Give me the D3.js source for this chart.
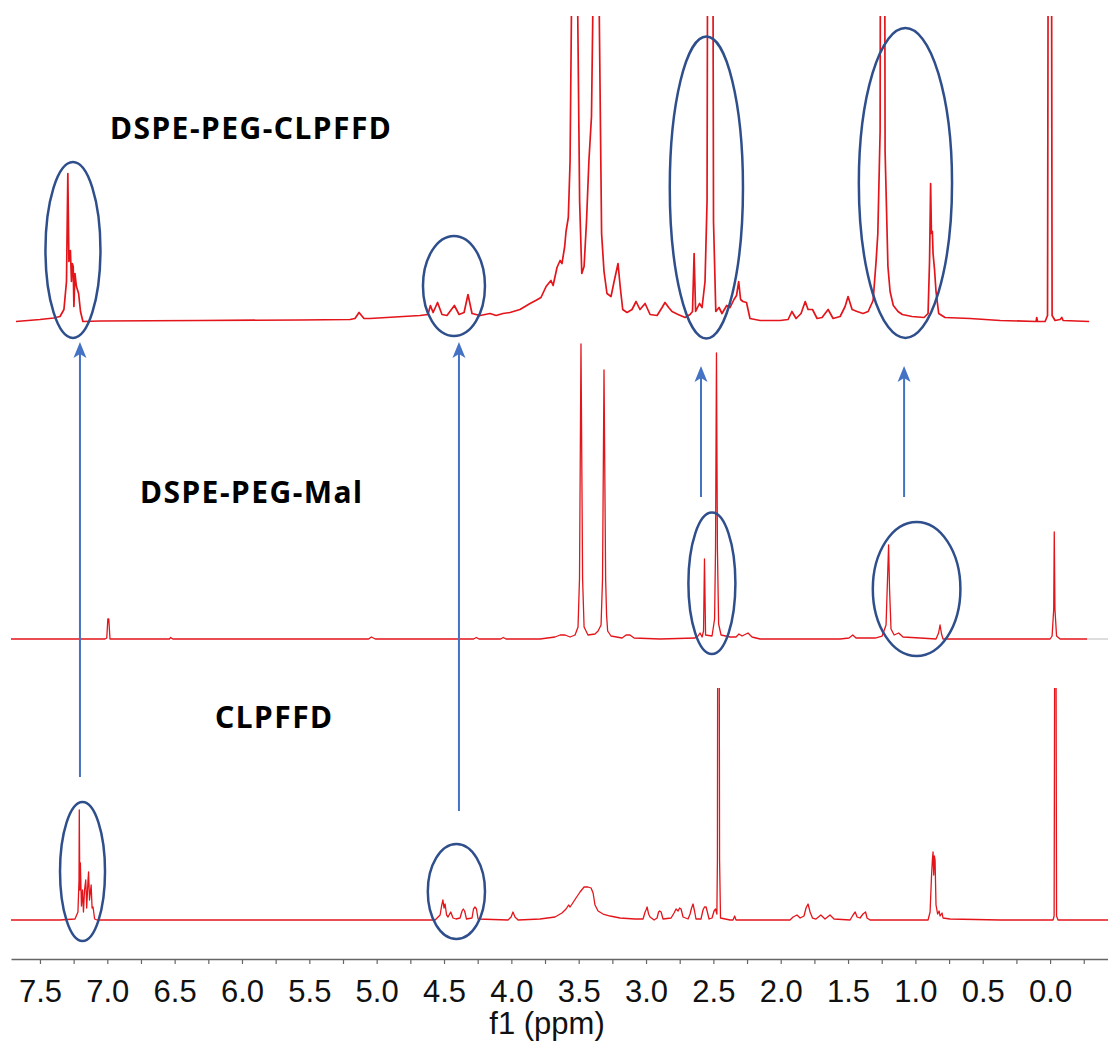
<!DOCTYPE html>
<html>
<head>
<meta charset="utf-8">
<script src="https://cdn.jsdelivr.net/npm/d3@7"></script>
<style>
  body { margin: 0; background: #fff; }
  svg { display: block; }
</style>
</head>
<body>
<div id="chart"></div>
<script>
// Chemical shift axis (ppm) and tick labels
const axisTicks = [7.5, 7.25, 7.0, 6.75, 6.5, 6.25, 6.0, 5.75, 5.5, 5.25, 5.0, 4.75, 4.5, 4.25, 4.0,
  3.75, 3.5, 3.25, 3.0, 2.75, 2.5, 2.25, 2.0, 1.75, 1.5, 1.25, 1.0, 0.75, 0.5, 0.25, 0.0, -0.25];
const sampleNames = ["DSPE-PEG-CLPFFD", "DSPE-PEG-Mal", "CLPFFD"];

// spectra: [ppm, intensity]
const specConjugate = [
  [7.678, 0], [7.499, 2], [7.399, 3.5], [7.351, 5], [7.322, 12], [7.303, 40], [7.293, 148], [7.285, 60],
  [7.274, 71], [7.266, 40], [7.26, 58], [7.253, 55], [7.248, 15], [7.24, 48], [7.229, 35], [7.213, 28],
  [7.199, 10], [7.181, 0], [7.054, 0.5], [6.312, 1], [5.569, 1.5], [5.198, 2], [5.161, 3], [5.131, 9],
  [5.094, 3], [5.05, 3], [4.678, 6], [4.619, 7], [4.601, 16], [4.581, 9], [4.548, 19], [4.515, 7],
  [4.478, 6], [4.423, 16], [4.388, 7], [4.351, 9], [4.322, 27], [4.292, 8], [4.232, 6], [4.158, 8],
  [4.113, 6], [4.062, 8], [4.01, 9], [3.936, 12], [3.861, 18], [3.819, 21], [3.78, 24], [3.742, 35],
  [3.706, 41], [3.69, 36], [3.661, 54], [3.638, 61], [3.624, 58], [3.604, 75], [3.594, 90], [3.577, 104],
  [3.564, 160], [3.553, 320], [3.531, 700], [3.508, 320], [3.493, 120], [3.477, 48], [3.46, 55],
  [3.442, 100], [3.424, 161], [3.405, 205], [3.393, 330], [3.371, 800], [3.349, 330], [3.33, 88],
  [3.312, 50], [3.29, 28], [3.26, 25], [3.237, 40], [3.208, 58], [3.192, 35], [3.173, 12], [3.141, 9],
  [3.104, 12], [3.074, 20], [3.045, 12], [3.007, 18], [2.97, 7], [2.918, 6], [2.881, 14], [2.859, 19],
  [2.832, 14], [2.807, 10], [2.762, 7], [2.71, 4], [2.673, 7], [2.655, 10], [2.643, 68], [2.632, 10],
  [2.603, 18], [2.584, 14], [2.562, 40], [2.547, 120], [2.536, 800], [2.51, 800], [2.499, 100],
  [2.482, 10], [2.458, 14], [2.436, 8], [2.401, 16], [2.376, 14], [2.347, 22], [2.328, 26], [2.312, 40],
  [2.298, 22], [2.28, 20], [2.254, 19], [2.228, 3], [2.153, 1], [2.005, 1], [1.945, 2], [1.917, 10],
  [1.886, 3], [1.849, 8], [1.818, 20], [1.797, 12], [1.764, 12], [1.73, 3], [1.693, 4], [1.648, 12],
  [1.611, 3], [1.559, 5], [1.522, 15], [1.5, 25], [1.47, 12], [1.433, 10], [1.389, 8], [1.351, 10],
  [1.314, 21], [1.292, 60], [1.279, 88], [1.262, 190], [1.255, 800], [1.233, 800], [1.225, 170],
  [1.204, 55], [1.188, 30], [1.164, 16], [1.129, 10], [1.097, 7], [1.025, 5], [0.936, 4], [0.906, 8],
  [0.895, 60], [0.887, 138], [0.881, 88], [0.874, 90], [0.869, 68], [0.858, 52], [0.847, 30],
  [0.827, 8], [0.78, 4], [0.594, 3], [0.371, 1], [0.104, 0], [0.099, 4], [0.093, 0], [0.037, 0],
  [0.019, 6], [0.009, 800], [-0.006, 800], [-0.015, 6], [-0.037, 1], [-0.074, 2], [-0.087, 4],
  [-0.097, 1], [-0.29, 0]
];

const specMal = [
  [7.715, 0], [7.017, 0], [7.004, 1], [6.996, 20], [6.989, 20], [6.98, 0], [6.539, 0], [6.529, 1.5],
  [6.514, 0], [5.06, 0], [5.039, 2], [5.01, 0], [4.28, 0], [4.26, 1.5], [4.24, 0], [4.08, 0],
  [4.06, 1.5], [4.04, 0], [3.787, 0], [3.676, 2], [3.638, 4], [3.601, 4], [3.564, 2], [3.527, 4],
  [3.505, 12], [3.494, 60], [3.483, 295], [3.471, 60], [3.46, 12], [3.431, 4], [3.379, 5], [3.356, 8],
  [3.334, 14], [3.323, 60], [3.312, 269], [3.3, 60], [3.293, 24], [3.285, 8], [3.26, 3], [3.178, 1],
  [3.148, 4], [3.119, 4], [3.089, 1], [2.896, 0], [2.636, 1], [2.614, 3], [2.599, 6], [2.584, 2],
  [2.573, 8], [2.566, 80], [2.558, 4], [2.51, 3], [2.491, 20], [2.484, 90], [2.477, 286], [2.47, 90],
  [2.461, 15], [2.443, 4], [2.376, 2], [2.332, 2], [2.31, 5], [2.287, 3], [2.243, 6], [2.213, 2],
  [2.153, 0], [1.559, 0], [1.493, 1], [1.465, 4], [1.441, 1], [1.299, 1], [1.247, 3], [1.218, 14],
  [1.207, 60], [1.199, 94], [1.192, 50], [1.181, 10], [1.158, 4], [1.124, 6], [1.092, 2], [0.965, 1],
  [0.847, 0], [0.828, 6], [0.817, 14], [0.806, 5], [0.795, 0], [0.0, 0], [-0.015, 3], [-0.027, 30],
  [-0.031, 107], [-0.036, 30], [-0.048, 3], [-0.074, 0], [-0.275, 0]
];

const specPeptide = [
  [7.715, 0], [7.351, 0], [7.24, 1], [7.218, 8], [7.21, 40], [7.208, 110], [7.204, 30], [7.2, 57],
  [7.192, 14], [7.184, 30], [7.177, 8], [7.169, 30], [7.16, 40], [7.153, 12], [7.143, 40], [7.139, 48],
  [7.132, 20], [7.12, 35], [7.113, 12], [7.106, 13], [7.094, 1], [7.076, 0], [4.566, 0], [4.529, 5],
  [4.518, 14], [4.508, 20], [4.5, 12], [4.492, 16], [4.481, 5], [4.47, 3], [4.45, 8], [4.433, 2],
  [4.411, 1], [4.381, 2], [4.366, 9], [4.357, 11], [4.347, 9], [4.333, 1], [4.292, 2], [4.281, 11],
  [4.27, 13], [4.259, 11], [4.247, 1], [4.025, 0], [4.002, 3], [3.988, 8], [3.973, 3], [3.95, 0],
  [3.787, 1], [3.676, 3], [3.624, 7], [3.594, 11], [3.575, 15], [3.564, 13], [3.549, 16], [3.52, 22],
  [3.49, 28], [3.46, 33], [3.431, 33], [3.408, 32], [3.393, 27], [3.379, 15], [3.356, 9], [3.319, 6],
  [3.267, 4], [3.193, 2], [3.082, 1], [3.022, 1], [3.007, 8], [3.0, 10], [2.992, 13], [2.981, 6],
  [2.97, 3], [2.94, 0], [2.918, 2], [2.907, 8], [2.899, 9], [2.888, 8], [2.874, 1], [2.814, 2],
  [2.792, 7], [2.777, 11], [2.762, 9], [2.751, 12], [2.74, 11], [2.725, 3], [2.688, 1], [2.673, 6],
  [2.662, 12], [2.651, 16], [2.64, 9], [2.629, 1], [2.592, 1], [2.577, 10], [2.566, 13], [2.554, 13],
  [2.543, 7], [2.532, 1], [2.51, 2], [2.495, 9], [2.484, 11], [2.474, 6], [2.47, 60], [2.467, 400],
  [2.458, 400], [2.454, 60], [2.447, 2], [2.376, 0], [2.354, 0], [2.342, 4], [2.332, 0], [1.931, 0],
  [1.908, 3], [1.879, 5], [1.856, 2], [1.827, 4], [1.812, 12], [1.797, 16], [1.782, 8], [1.764, 2],
  [1.738, 1], [1.702, 5], [1.671, 1], [1.634, 5], [1.604, 1], [1.485, 0], [1.463, 5], [1.447, 8],
  [1.433, 3], [1.411, 2], [1.389, 6], [1.37, 8], [1.359, 2], [1.337, 0], [0.906, 0], [0.891, 8],
  [0.88, 45], [0.874, 60], [0.869, 68], [0.864, 45], [0.859, 64], [0.854, 60], [0.847, 15], [0.835, 6],
  [0.824, 9], [0.817, 4], [0.802, 7], [0.795, 2], [0.743, 1], [0.371, 0], [-0.022, 0], [-0.03, 4],
  [-0.036, 400], [-0.042, 400], [-0.048, 4], [-0.059, 0], [-0.431, 0]
];

const width = 1108;
const height = 1044;

const svg = d3.select("#chart").append("svg")
  .attr("width", width)
  .attr("height", height)
  .style("font-family", "'Liberation Sans', Arial, sans-serif");

const x = d3.scaleLinear().domain([7.715, -0.43]).range([11, 1108]);

// each trace sits on its own baseline, clipped where the original was cut off
const panels = [
  { data: specConjugate, base: 321.5, top: 16, sw: 1.7, name: sampleNames[0], lx: 110, ly: 139 },
  { data: specMal, base: 639, top: 300, sw: 1.3, name: sampleNames[1], lx: 140, ly: 503 },
  { data: specPeptide, base: 920, top: 688, sw: 1.3, name: sampleNames[2], lx: 215, ly: 728 }
];

const red = "#e3151b";

panels.forEach((p, i) => {
  const y = d3.scaleLinear().domain([0, 300]).range([p.base, p.base - 300]);
  svg.append("clipPath").attr("id", "clip" + i)
    .append("rect").attr("x", 0).attr("y", p.top).attr("width", width).attr("height", p.base + 40 - p.top);

  const line = d3.line().x(d => x(d[0])).y(d => y(d[1]));
  svg.append("path")
    .datum(p.data)
    .attr("clip-path", "url(#clip" + i + ")")
    .attr("fill", "none")
    .attr("stroke", red)
    .attr("stroke-width", p.sw)
    .attr("stroke-linejoin", "round")
    .attr("d", line);

  svg.append("text")
    .attr("x", p.lx)
    .attr("y", p.ly)
    .attr("font-family", "'Noto Sans', 'Open Sans', sans-serif")
    .attr("font-weight", "bold")
    .attr("font-size", 30)
    .attr("letter-spacing", 1.5)
    .attr("fill", "#000")
    .text(p.name);
});

// little grey stub after the middle trace
svg.append("line")
  .attr("x1", x(-0.275)).attr("x2", width)
  .attr("y1", 639).attr("y2", 639)
  .attr("stroke", "#bbb").attr("stroke-width", 1);

// ppm axis
const axis = d3.axisBottom(x)
  .tickValues(axisTicks)
  .tickSize(5)
  .tickSizeOuter(0)
  .tickPadding(16)
  .tickFormat(d => (Math.round(d * 100) % 50 === 0) ? d3.format(".1f")(d) : "");

const gAxis = svg.append("g")
  .attr("transform", "translate(0,959)")
  .call(axis);
gAxis.select(".domain").attr("stroke", "#666").attr("stroke-width", 1.5);
gAxis.selectAll(".tick line").attr("stroke", "#666").attr("stroke-width", 1.2);
gAxis.selectAll(".tick text")
  .attr("font-family", "'Liberation Sans', Arial, sans-serif")
  .attr("font-size", 31)
  .attr("fill", "#111");

svg.append("text")
  .attr("x", 547)
  .attr("y", 1034)
  .attr("text-anchor", "middle")
  .attr("font-size", 31)
  .attr("fill", "#111")
  .text("f1 (ppm)");

// annotations: ellipses around the shifted signals, arrows joining them
const rings = [
  { ppm: 7.255, cy: 250, rx: 27.5, ry: 88 },
  { ppm: 4.426, cy: 286, rx: 31, ry: 50 },
  { ppm: 2.552, cy: 187.5, rx: 36.6, ry: 151 },
  { ppm: 1.074, cy: 183, rx: 46.6, ry: 155 },
  { ppm: 2.511, cy: 583.3, rx: 23.5, ry: 70.7 },
  { ppm: 0.991, cy: 589, rx: 43.8, ry: 67 },
  { ppm: 7.184, cy: 871.5, rx: 22.5, ry: 69.5 },
  { ppm: 4.408, cy: 891.5, rx: 28.6, ry: 47.5 }
];

const arrows = [
  { ppm: 7.203, y1: 777, y2: 342 },
  { ppm: 4.389, y1: 811, y2: 342 },
  { ppm: 2.592, y1: 497, y2: 366 },
  { ppm: 1.084, y1: 497, y2: 366 }
];

svg.selectAll(".ring")
  .data(rings)
  .enter().append("ellipse")
  .attr("class", "ring")
  .attr("cx", d => x(d.ppm))
  .attr("cy", d => d.cy)
  .attr("rx", d => d.rx)
  .attr("ry", d => d.ry)
  .attr("fill", "none")
  .attr("stroke", "#2f4f8c")
  .attr("stroke-width", 2.5);

const blue = "#4472c4";

svg.selectAll(".arrow")
  .data(arrows)
  .enter().append("line")
  .attr("class", "arrow")
  .attr("x1", d => x(d.ppm))
  .attr("x2", d => x(d.ppm))
  .attr("y1", d => d.y1)
  .attr("y2", d => d.y2 + 10)
  .attr("stroke", blue)
  .attr("stroke-width", 2);

// arrow heads drawn by hand, tip at y2
svg.selectAll(".head")
  .data(arrows)
  .enter().append("path")
  .attr("class", "head")
  .attr("d", d => {
    const cx = x(d.ppm);
    return `M${cx},${d.y2} L${cx + 6.5},${d.y2 + 16} L${cx},${d.y2 + 12} L${cx - 6.5},${d.y2 + 16} Z`;
  })
  .attr("fill", blue);
</script>
</body>
</html>
